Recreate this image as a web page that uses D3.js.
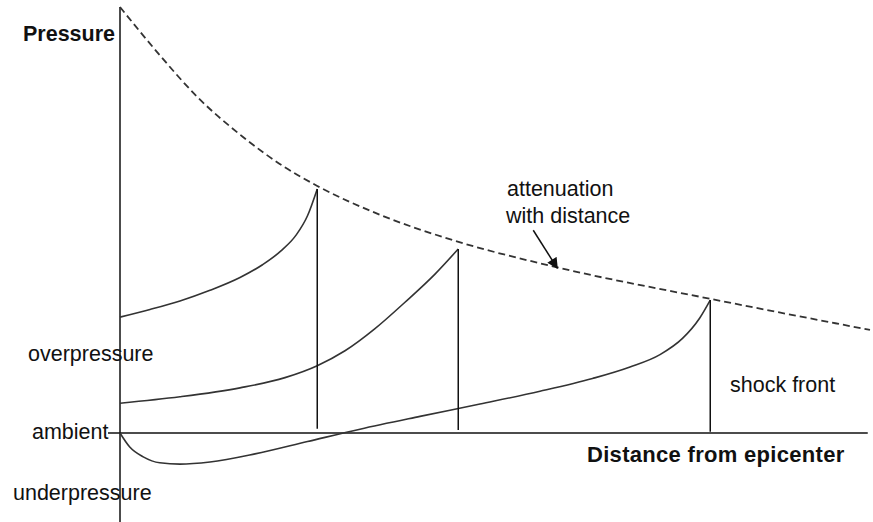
<!DOCTYPE html>
<html>
<head>
<meta charset="utf-8">
<script src="https://cdn.jsdelivr.net/npm/d3@7"></script>
<style>
  html, body { margin: 0; padding: 0; background: #fff; }
  svg { display: block; }
  text { font-family: "Liberation Sans", Arial, sans-serif; fill: #111; }
</style>
</head>
<body>
<svg id="chart" width="873" height="522"></svg>
<script>
// Peak overpressure envelope: how the blast peak decays with distance
const attenuationDist  = [0, 5.3, 10.3, 16.4, 21.7, 26.3, 34.7, 44.7, 58.0, 78.7, 100];
const attenuationPress = [100, 88.7, 78.9, 69.5, 62.7, 58.0, 51.2, 45.1, 39.0, 31.5, 24.2];

// Pressure profile behind the shock front at three moments in time
const profile1Dist  = [0, 4, 8, 12, 16, 19, 21.5, 23.5, 25, 26.3];
const profile1Press = [27.2, 29.0, 31.0, 33.5, 36.5, 39.5, 42.8, 46.5, 51.0, 57.3];

const profile2Dist  = [0, 8, 16, 22, 26.3, 30, 34, 38, 42, 45.1];
const profile2Press = [7.0, 8.5, 10.6, 13.0, 15.8, 19.3, 24.5, 30.7, 37.3, 43.2];

const profile3Dist  = [0, 1.3, 3.1, 5.3, 8, 12, 18, 25, 32, 40, 48, 56, 63, 68, 72, 75, 77.3, 78.7];
const profile3Press = [0, -3.3, -5.6, -7.0, -7.3, -6.8, -4.9, -2.0, 0.9, 3.9, 6.8, 9.8, 12.8, 15.5, 18.4, 22.2, 27.0, 31.2];

// Shock fronts: position, peak pressure, foot of the front
const shockDist  = [26.3, 45.1, 78.7];
const shockPeak  = [57.3, 43.2, 31.2];
const shockFoot  = [1.0, 0.7, 0.3];

// Pressure-level labels along the vertical axis
const levelLabels = ["overpressure", "ambient", "underpressure"];
const levelValues = [16.9, -1.4, -15.7];

const svg = d3.select("#chart");

const x = d3.scaleLinear().domain([0, 100]).range([120, 870]);
const y = d3.scaleLinear().domain([0, 100]).range([433, 7]);

const zip = (xs, ys) => xs.map((d, i) => [d, ys[i]]);

const line = d3.line()
  .x(d => x(d[0]))
  .y(d => y(d[1]))
  .curve(d3.curveMonotoneX);

// Axes
svg.append("line")
  .attr("x1", x(0)).attr("x2", x(0))
  .attr("y1", y(100)).attr("y2", y(-21))
  .attr("stroke", "#111").attr("stroke-width", 1.5);

svg.append("line")
  .attr("x1", x(-1.6)).attr("x2", x(99.7))
  .attr("y1", y(0)).attr("y2", y(0))
  .attr("stroke", "#111").attr("stroke-width", 1.5);

// Attenuation envelope
svg.append("path")
  .datum(zip(attenuationDist, attenuationPress))
  .attr("d", line)
  .attr("fill", "none")
  .attr("stroke", "#333")
  .attr("stroke-width", 1.8)
  .attr("stroke-dasharray", "7,4");

// Pressure profiles
[zip(profile1Dist, profile1Press), zip(profile2Dist, profile2Press), zip(profile3Dist, profile3Press)]
  .forEach(pts => {
    svg.append("path")
      .datum(pts)
      .attr("d", line)
      .attr("fill", "none")
      .attr("stroke", "#333")
      .attr("stroke-width", 1.6);
  });

// Shock fronts
svg.selectAll("line.shock")
  .data(shockDist)
  .join("line")
  .attr("class", "shock")
  .attr("x1", d => x(d)).attr("x2", d => x(d))
  .attr("y1", (d, i) => y(shockPeak[i]))
  .attr("y2", (d, i) => y(shockFoot[i]))
  .attr("stroke", "#111")
  .attr("stroke-width", 1.5);

// Axis titles
svg.append("text")
  .attr("x", 23).attr("y", 41)
  .attr("font-size", 21.5).attr("font-weight", "bold")
  .text("Pressure");

svg.append("text")
  .attr("x", 587).attr("y", 462)
  .attr("font-size", 22).attr("font-weight", "bold")
  .attr("letter-spacing", 0.3)
  .text("Distance from epicenter");

// Level labels
const levelX = [28, 32, 13];
svg.selectAll("text.level")
  .data(levelLabels)
  .join("text")
  .attr("class", "level")
  .attr("x", (d, i) => levelX[i])
  .attr("y", (d, i) => y(levelValues[i]))
  .attr("font-size", 21.5)
  .text(d => d);

// Annotations
svg.append("text")
  .attr("x", 730).attr("y", 392)
  .attr("font-size", 21.5)
  .text("shock front");

const note = svg.append("text")
  .attr("font-size", 21.5);
note.append("tspan").attr("x", 507).attr("y", 196).text("attenuation");
note.append("tspan").attr("x", 506).attr("y", 223).text("with distance");

// Arrow pointing at the envelope
const defs = svg.append("defs");
defs.append("marker")
  .attr("id", "arrowhead")
  .attr("viewBox", "0 0 10 10")
  .attr("refX", 9).attr("refY", 5)
  .attr("markerWidth", 12).attr("markerHeight", 11)
  .attr("markerUnits", "userSpaceOnUse")
  .attr("orient", "auto")
  .append("path")
  .attr("d", "M0,0 L10,5 L0,10 Z")
  .attr("fill", "#111");

svg.append("line")
  .attr("x1", x(55.1)).attr("y1", y(47.6))
  .attr("x2", x(58.3)).attr("y2", y(38.7))
  .attr("stroke", "#111")
  .attr("stroke-width", 1.5)
  .attr("marker-end", "url(#arrowhead)");
</script>
</body>
</html>
